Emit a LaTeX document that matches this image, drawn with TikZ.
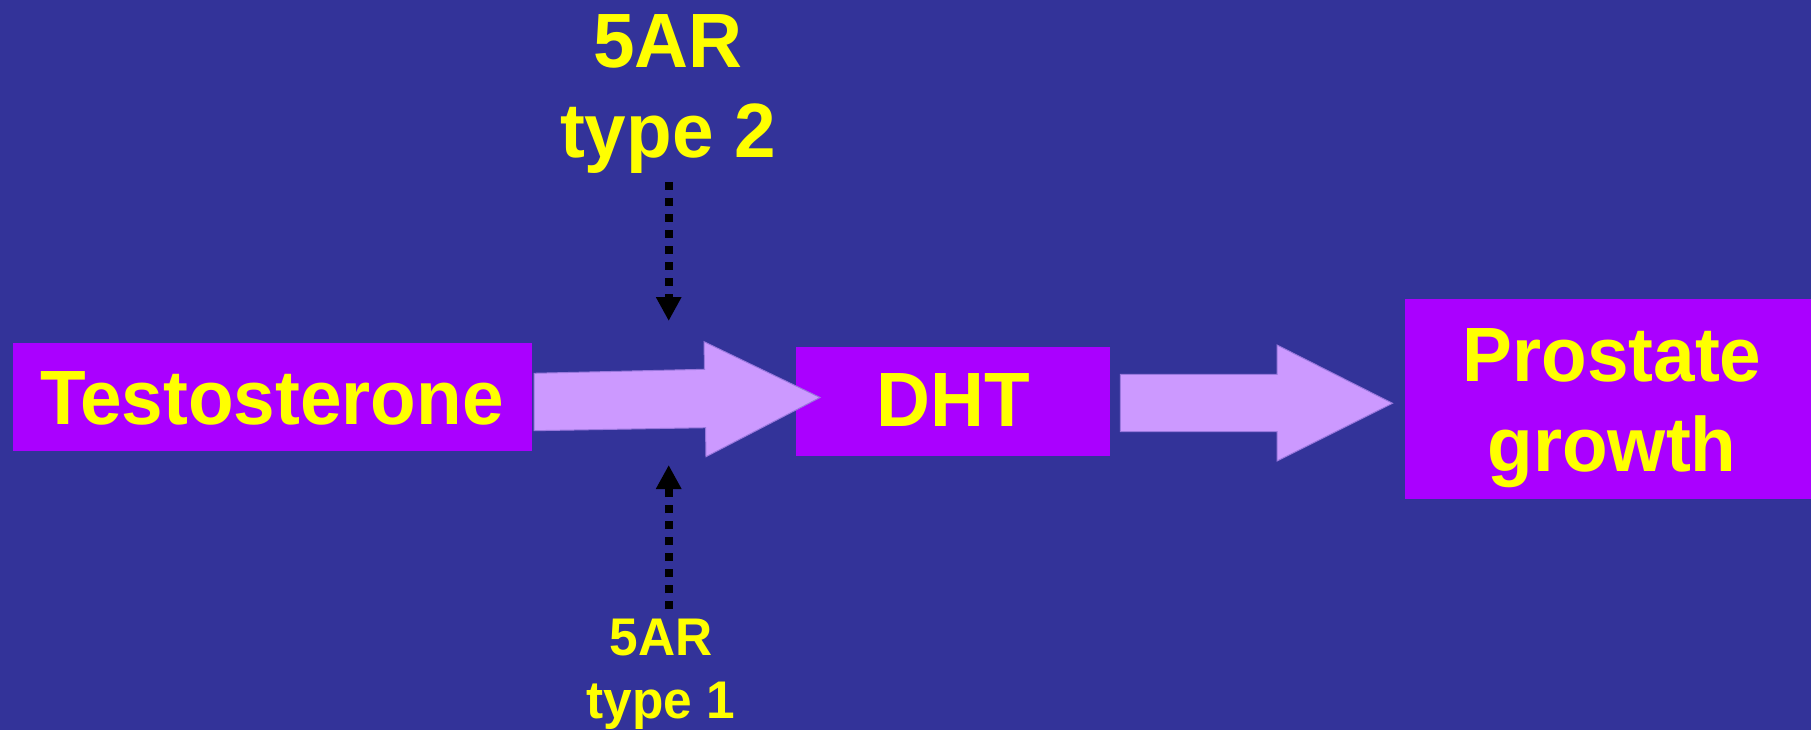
\documentclass[tikz,border=0pt]{standalone}
\usepackage{fontspec}
\setmainfont{Liberation Sans}
\newfontfamily\labelfont[FakeStretch=0.97]{Liberation Sans}
\usetikzlibrary{arrows.meta}
\definecolor{bgblue}{HTML}{333399}
\definecolor{boxpurple}{HTML}{AA00FF}
\definecolor{flowlilac}{HTML}{CC99FF}
\definecolor{flowedge}{HTML}{9977DD}
\definecolor{labelyellow}{HTML}{FFFF00}
\tikzset{
  stagebox/.style={fill=boxpurple, draw=none, inner sep=0pt},
  bigtext/.style={text=labelyellow, font=\labelfont\fontsize{77pt}{90pt}\selectfont\bfseries, inner sep=0pt, align=center},
  smalltext/.style={text=labelyellow, font=\labelfont\fontsize{53pt}{63pt}\selectfont\bfseries, inner sep=0pt, align=center},
  flowarrow/.style={fill=flowlilac, draw=flowedge, line width=1pt, line join=miter},
  enzyme/.style={draw=black, line width=8pt, dash pattern=on 8pt off 8pt,
    -{Triangle[length=24pt,width=24pt]}}
}
\begin{document}
\begin{tikzpicture}[x=1pt,y=-1pt]
  % background
  \fill[bgblue] (0,0) rectangle (1811,730);
  \useasboundingbox (0,0) rectangle (1811,730);

  % stage boxes
  \node[stagebox, minimum width=519pt, minimum height=108pt] (testo) at (272.5,397) {};
  \node[stagebox, minimum width=314pt, minimum height=109pt] (dht) at (953,401.5) {};
  \node[stagebox, minimum width=406pt, minimum height=200pt] (growth) at (1608,399) {};

  % stage labels (base anchor = baseline of the last line)
  \node[bigtext, anchor=base] (testolbl) at (272,424) {Testosterone};
  \node[bigtext, anchor=base] (dhtlbl) at (953,426.5) {DHT};
  \node[bigtext, anchor=base] (growthlbl) at (1612,471) {Prostate\\growth};

  % block arrows between stages
  \draw[flowarrow] (534,373.3) -- (704.5,369.3) -- (704,341.7) -- (820,397.5)
    -- (706,456.7) -- (705.5,427.7) -- (534,430.7) -- cycle;
  \draw[flowarrow] (1120.4,374.3) -- (1277,374.3) -- (1277,345) -- (1392.5,403.3)
    -- (1277,461) -- (1277,431.7) -- (1120.4,431.7) -- cycle;

  % enzyme labels
  \node[bigtext, anchor=base] (type2) at (668,158) {5AR\\type 2};
  \node[smalltext, anchor=base] (type1) at (661,718) {5AR\\type 1};

  % enzyme arrows
  \coordinate (t2start) at (668.7,182);
  \coordinate (t2end) at (668.7,321);
  \coordinate (t1start) at (668.7,609);
  \coordinate (t1end) at (668.7,465);
  \draw[enzyme] (t2start) -- (t2end);
  \draw[enzyme] (t1start) -- (t1end);
\end{tikzpicture}
\end{document}
